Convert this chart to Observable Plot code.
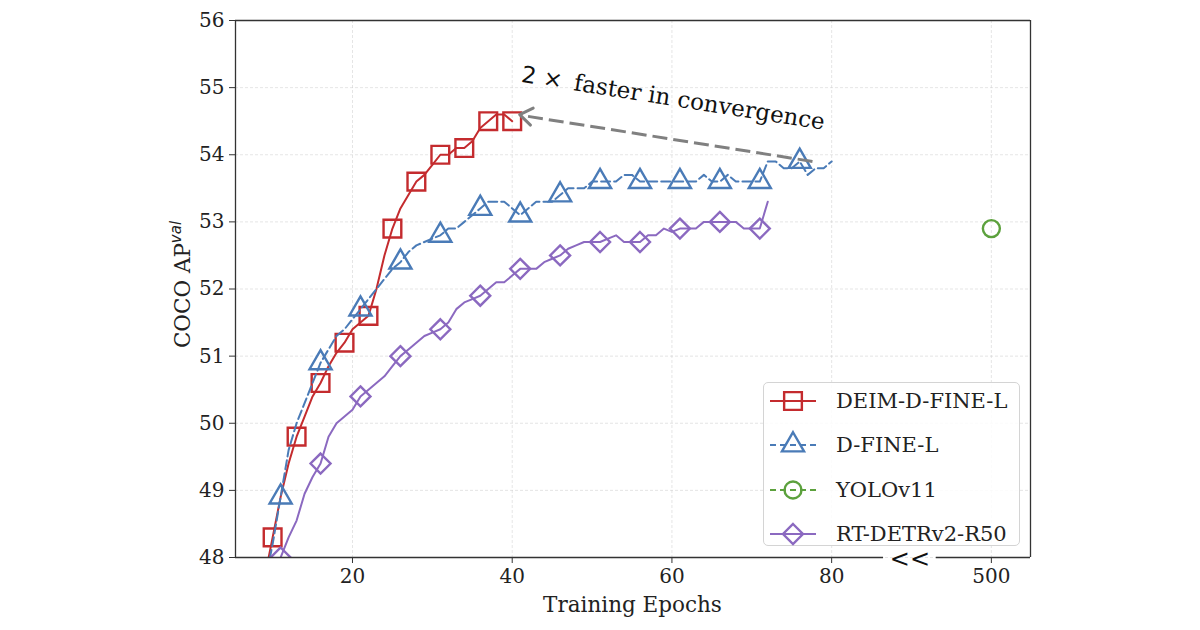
<!DOCTYPE html>
<html>
<head>
<meta charset="utf-8">
<script src="https://cdn.jsdelivr.net/npm/d3@7"></script>
<script src="https://cdn.jsdelivr.net/npm/@observablehq/plot@0.6"></script>
<style>
  html, body { margin: 0; padding: 0; background: #fff; }
  #wrap { position: relative; width: 1200px; height: 630px; overflow: hidden; }
  #legend { position: absolute; left: 763px; top: 382px; width: 257px; height: 164px;
            border: 1px solid #d4d4d4; border-radius: 5px; background: rgba(255,255,255,0.85);
            box-sizing: border-box; font-family: 'DejaVu Serif', serif; font-size: 21px; color: #222; }
  .lrow { position: absolute; left: 0; height: 40px; width: 100%; }
  .lrow svg { position: absolute; left: 0; top: 0; }
  .lrow span { position: absolute; left: 72px; top: 50%; transform: translateY(-50%); white-space: nowrap; }
</style>
</head>
<body>
<div id="wrap"></div>
<script>
// ---------------- data ----------------
const deimEpochs = d3.range(9, 41);
const deimAP = [47.7,48.3,48.9,49.4,49.8,50.1,50.4,50.6,50.85,51.05,51.2,51.4,51.5,51.6,52.0,52.5,
                52.9,53.2,53.4,53.6,53.7,53.85,54.0,54.0,54.1,54.1,54.2,54.4,54.5,54.6,54.6,54.5];
const deimMarkerEpochs = [10,13,16,19,22,25,28,31,34,37,40];

const dfineEpochs = d3.range(9, 81);
const dfineAP = [47.6,48.2,48.9,49.6,50.0,50.3,50.6,50.9,51.1,51.3,51.4,51.55,51.7,51.85,52.0,52.15,
                 52.3,52.4,52.55,52.65,52.7,52.75,52.8,52.9,52.9,53.0,53.1,53.2,53.3,53.3,53.3,53.2,
                 53.1,53.2,53.3,53.3,53.3,53.4,53.5,53.5,53.5,53.6,53.6,53.6,53.6,53.7,53.7,53.6,
                 53.6,53.6,53.6,53.6,53.6,53.6,53.6,53.7,53.6,53.6,53.7,53.6,53.6,53.6,53.6,53.9,
                 53.9,53.8,53.8,53.9,53.7,53.8,53.8,53.9];
const dfineMarkerEpochs = [11,16,21,26,31,36,41,46,51,56,61,66,71,76];

const rtdetrEpochs = d3.range(10, 73);
const rtdetrAP = [47.6,48.0,48.3,48.55,48.95,49.2,49.4,49.8,50.0,50.1,50.2,50.4,50.5,50.6,50.7,50.85,
                  51.0,51.1,51.2,51.3,51.35,51.4,51.5,51.7,51.8,51.85,51.9,52.0,52.1,52.1,52.2,52.3,
                  52.3,52.3,52.4,52.45,52.5,52.6,52.65,52.7,52.7,52.7,52.75,52.8,52.7,52.7,52.7,52.8,
                  52.8,52.9,52.85,52.9,52.9,52.9,53.0,53.0,53.0,53.0,53.0,52.9,52.9,52.9,53.3];
const rtdetrMarkerEpochs = [11,16,21,26,31,36,41,46,51,56,61,66,71];

const yoloEpochs = [500];
const yoloAP = [52.9];

// axis ticks (broken x axis: 500 epochs drawn at position 100)
const yTicks = [48,49,50,51,52,53,54,55,56];
const xTickPos = [20,40,60,80,100];
const xTickLabels = ["20","40","60","80","500"];
const brokenEpochPos = new Map([[500, 100]]);
const xDomain = [5.35, 104.9];
const yDomain = [48, 56];
const xBreakGap = [86.5, 93.1];
const xBreakMark = "<<";

// annotation
const arrowFrom = {x: 77.6, y: 53.9};
const arrowTo = {x: 41.0, y: 54.59};
const annotPos = {x: 41.1, y: 55.08};
const annotMath = "2 \u00d7";
const annotText = "faster in convergence";

const seriesNames = ["DEIM-D-FINE-L", "D-FINE-L", "YOLOv11", "RT-DETRv2-R50"];
const seriesColors = ["#c42b2e", "#4a7bb7", "#5ca13d", "#8b69c0"];
const seriesSymbols = ["square", "triangle", "circle", "diamond2"];
const seriesR = [10, 8.2, 8.5, 9];
const seriesDash = [null, "9,4", "9,4", null];

// ---------------- build rows ----------------
const toRows = (ep, ap) => ep.map((e, i) => ({epoch: brokenEpochPos.get(e) ?? e, ap: ap[i]}));
const deim = toRows(deimEpochs, deimAP);
const dfine = toRows(dfineEpochs, dfineAP);
const rtdetr = toRows(rtdetrEpochs, rtdetrAP);
const yolo = toRows(yoloEpochs, yoloAP);
const pick = (rows, eps) => rows.filter(d => eps.includes(d.epoch));

const lineMark = (rows, k) => Plot.line(rows, {x: "epoch", y: "ap", stroke: seriesColors[k], strokeWidth: 2,
  strokeDasharray: seriesDash[k] ?? undefined, clip: true});
const dotMark = (rows, k) => Plot.dot(rows, {x: "epoch", y: "ap", symbol: seriesSymbols[k], r: seriesR[k],
  stroke: seriesColors[k], fill: "none", strokeWidth: 2.4, clip: true});

const frameStroke = "#333";
const arrowColor = "#808080";
const gridStyle = {stroke: "#c8c8c8", strokeOpacity: 0.6, strokeWidth: 0.8, strokeDasharray: "3,2"};

const chart = Plot.plot({
  width: 1200, height: 630,
  marginLeft: 235, marginRight: 170, marginTop: 20, marginBottom: 73,
  style: {fontFamily: "'DejaVu Serif', serif", fontSize: "20px", color: "#222", background: "transparent", overflow: "visible"},
  x: {domain: xDomain},
  y: {domain: yDomain},
  marks: [
    Plot.gridY(yTicks, gridStyle),
    Plot.gridX(xTickPos, gridStyle),
    lineMark(deim, 0), dotMark(pick(deim, deimMarkerEpochs), 0),
    lineMark(dfine, 1), dotMark(pick(dfine, dfineMarkerEpochs), 1),
    dotMark(yolo, 2),
    lineMark(rtdetr, 3), dotMark(pick(rtdetr, rtdetrMarkerEpochs), 3),
    Plot.link([{a: arrowFrom, b: arrowTo}], {x1: d => d.a.x, y1: d => d.a.y, x2: d => d.b.x, y2: d => d.b.y,
      stroke: arrowColor, strokeWidth: 3, strokeDasharray: "15,6"}),
    Plot.ruleY([yDomain[1]], {stroke: frameStroke, strokeWidth: 1.3}),
    Plot.ruleX(xDomain, {stroke: frameStroke, strokeWidth: 1.3}),
    Plot.ruleY([{x1: xDomain[0], x2: xBreakGap[0]}, {x1: xBreakGap[1], x2: xDomain[1]}],
      {y: yDomain[0], x1: "x1", x2: "x2", stroke: frameStroke, strokeWidth: 1.3}),
    Plot.text([xBreakMark], {x: (xBreakGap[0] + xBreakGap[1]) / 2, y: yDomain[0], text: d => d,
      fontFamily: "'DejaVu Sans', sans-serif", fontSize: 24, fill: "#111", lineAnchor: "middle", dy: 2}),
    Plot.axisY(yTicks, {tickSize: 6, tickPadding: 5, label: null, stroke: frameStroke, fill: "#222",
      tickFormat: d => String(d)}),
    Plot.axisX(xTickPos, {tickSize: 6, tickPadding: 5, label: null, stroke: frameStroke, fill: "#222",
      tickFormat: d => xTickLabels[xTickPos.indexOf(d)]})
  ]
});

document.getElementById("wrap").appendChild(chart);

const svg = d3.select(chart);
const xs = chart.scale("x"), ys = chart.scale("y");
const plotMidY = (20 + (630 - 73)) / 2;
const plotMidX = (235 + (1200 - 170)) / 2;

// arrow head (open chevron, solid) at the tip of the dashed arrow
{
  const tx = xs.apply(arrowTo.x), ty = ys.apply(arrowTo.y);
  const fx = xs.apply(arrowFrom.x), fy = ys.apply(arrowFrom.y);
  const ang = Math.atan2(fy - ty, fx - tx);
  const L = 15, half = 35 * Math.PI / 180;
  const w1 = [tx + L * Math.cos(ang + half), ty + L * Math.sin(ang + half)];
  const w2 = [tx + L * Math.cos(ang - half), ty + L * Math.sin(ang - half)];
  svg.append("path")
    .attr("d", `M${w1[0]},${w1[1]}L${tx},${ty}L${w2[0]},${w2[1]}`)
    .attr("fill", "none").attr("stroke", arrowColor).attr("stroke-width", 3)
    .attr("stroke-linecap", "round").attr("stroke-linejoin", "round");
}

// axis labels
svg.append("text")
  .attr("x", plotMidX).attr("y", 612)
  .attr("text-anchor", "middle")
  .attr("font-family", "'DejaVu Serif', serif").attr("font-size", 21.5).attr("fill", "#222")
  .text("Training Epochs");

const yl = svg.append("text")
  .attr("transform", `translate(190,${plotMidY - 4}) rotate(-90)`)
  .attr("text-anchor", "middle")
  .attr("font-family", "'DejaVu Serif', serif").attr("font-size", 21.5).attr("fill", "#222");
yl.append("tspan").text("COCO AP");
yl.append("tspan").attr("font-family", "'DejaVu Sans', sans-serif").attr("font-style", "italic")
  .attr("font-size", 15).attr("dy", -9).text("val");

// annotation text
const at = svg.append("text")
  .attr("transform", `translate(${xs.apply(annotPos.x)},${ys.apply(annotPos.y)}) rotate(9)`)
  .attr("text-anchor", "start")
  .attr("font-size", 23).attr("fill", "#111");
at.append("tspan").attr("font-family", "'DejaVu Sans', sans-serif").text(annotMath);
at.append("tspan").attr("font-family", "'DejaVu Serif', serif").attr("dx", 12).text(annotText);

// legend
const legend = d3.select("#wrap").append("div").attr("id", "legend");
const rowCenters = [18, 62, 107, 151];
const symbolTypes = {square: d3.symbolSquare, triangle: d3.symbolTriangle, circle: d3.symbolCircle, diamond2: d3.symbolDiamond2};
seriesNames.forEach((name, k) => {
  const row = legend.append("div").attr("class", "lrow").style("top", (rowCenters[k] - 20) + "px");
  const s = row.append("svg").attr("width", 60).attr("height", 40);
  s.append("line").attr("x1", 6).attr("x2", 52).attr("y1", 20).attr("y2", 20)
    .attr("stroke", seriesColors[k]).attr("stroke-width", 2)
    .attr("stroke-dasharray", seriesDash[k] ? "6,4" : null);
  s.append("path").attr("transform", "translate(29,20)")
    .attr("d", d3.symbol(symbolTypes[seriesSymbols[k]], seriesR[k] * seriesR[k] * Math.PI)())
    .attr("fill", "none").attr("stroke", seriesColors[k]).attr("stroke-width", 2.4);
  row.append("span").text(name);
});
</script>
</body>
</html>
